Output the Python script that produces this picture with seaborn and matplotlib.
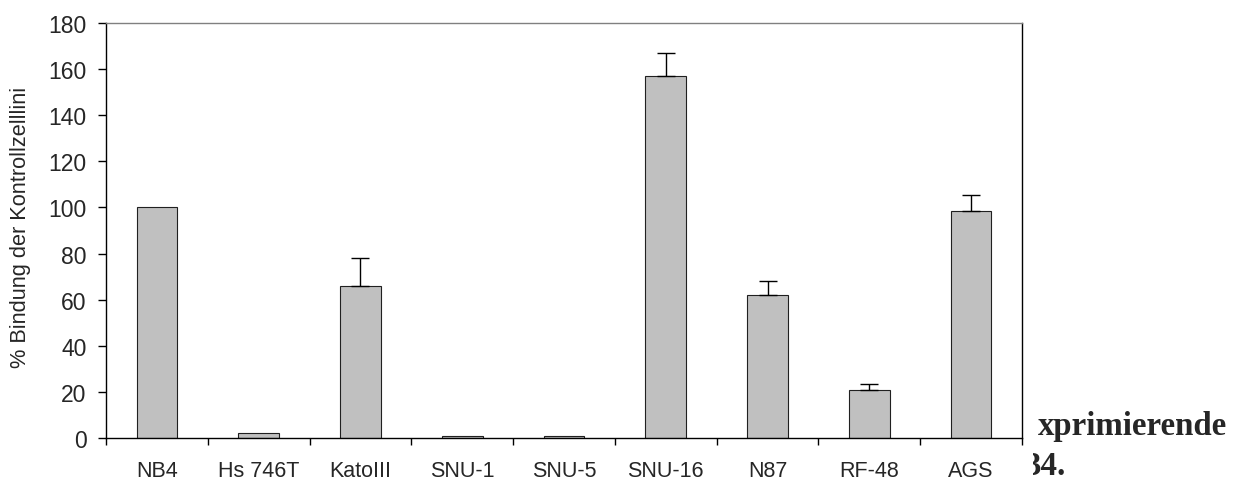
import numpy as np
import pandas as pd
import matplotlib
matplotlib.use("Agg")
import matplotlib.pyplot as plt
import seaborn as sns
from matplotlib.transforms import Bbox, TransformedBbox

# Zelllinien und gemessene Bindung (% der Kontrollzelllinie NB4)
cell_lines = ["NB4", "Hs 746T", "KatoIII", "SNU-1", "SNU-5", "SNU-16", "N87", "RF-48", "AGS"]
binding = [100, 2, 66, 1, 1, 157, 62, 21, 98.5]
binding_err = [0, 0, 12, 0, 0, 10, 6, 2.5, 7]
y_ticks = [0, 20, 40, 60, 80, 100, 120, 140, 160, 180]

sns.set_style("white")
plt.rcParams["font.family"] = ["Liberation Sans", "DejaVu Sans"]

W, H = 1235, 481
fig = plt.figure(figsize=(W / 100, H / 100), dpi=100)
ax = fig.add_axes([106 / W, 1 - 439 / H, (1022 - 106) / W, (439 - 24) / H])

df = pd.DataFrame({"line": cell_lines, "value": binding})
sns.barplot(data=df, x="line", y="value", color="#C0C0C0", saturation=1,
            edgecolor="#202020", linewidth=0.8, width=0.4, ax=ax)

# nur obere Fehlerbalken
x_pos = np.arange(len(cell_lines))
err = np.array(binding_err, dtype=float)
has = err > 0
ax.errorbar(x_pos[has], np.array(binding)[has],
            yerr=[np.zeros(has.sum()), err[has]],
            fmt="none", ecolor="black", elinewidth=1.0, capsize=6.5, capthick=1.0)

ax.set_xlim(-0.5, len(cell_lines) - 0.5)
ax.set_ylim(0, 180)
ax.set_yticks(y_ticks)
ax.set_xlabel("")
ax.set_ylabel("")

ax.set_xticks(x_pos)
ax.set_xticklabels(cell_lines, fontsize=15.5)
ax.set_xticks(np.arange(-0.5, len(cell_lines), 1.0), minor=True)
ax.tick_params(axis="x", which="major", length=0, pad=16)
ax.tick_params(axis="x", which="minor", length=5, width=1, color="black", direction="out", bottom=True)
ax.tick_params(axis="y", length=6, width=1, color="black", direction="out", left=True,
               labelsize=16.5, pad=8)

for side in ["left", "bottom", "right"]:
    ax.spines[side].set_color("black")
    ax.spines[side].set_linewidth(1)
ax.spines["top"].set_color("#808080")
ax.spines["top"].set_linewidth(1)

# y-Achsentitel, oben abgeschnitten wie im Original
ylab = fig.text(21 / W, 1 - 368 / H, "% Bindung der Kontrollzelllinie", rotation=90,
                ha="center", va="bottom", fontsize=15.7)
ylab.set_clip_box(TransformedBbox(Bbox.from_extents(0, 0, 1, 1 - 88 / H), fig.transFigure))
ylab.set_clip_on(True)

# Dokumenttext rechts neben dem Diagramm
clip_right = TransformedBbox(Bbox.from_extents(1033 / W, 0, 1, 1), fig.transFigure)
for txt, xr, yb in [("xprimierende", 1227, 435), ("34.", 1066, 475)]:
    t = fig.text(xr / W, 1 - yb / H, txt, ha="right", va="baseline",
                 fontsize=23.7, fontweight="bold", family=["Liberation Serif", "DejaVu Serif"])
    t.set_clip_box(clip_right)
    t.set_clip_on(True)

fig.savefig("out.png", dpi=100)
